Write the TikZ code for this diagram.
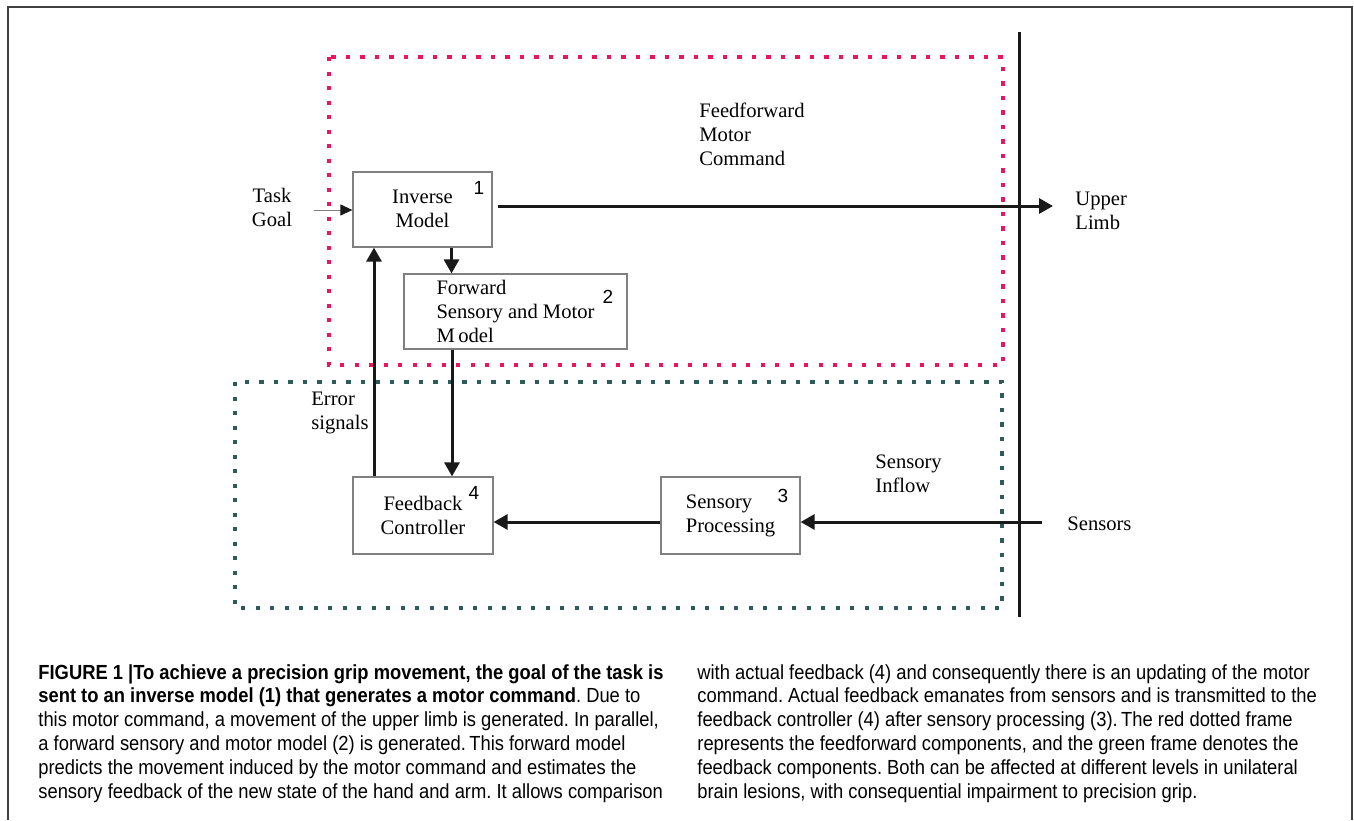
\documentclass[tikz,border=0pt]{standalone}
\usepackage{fontspec}
\setmainfont{Liberation Serif}
\newfontfamily\numfont{Liberation Sans}
\newfontfamily\capfont[FakeStretch=0.9]{Liberation Sans}
\usetikzlibrary{arrows.meta}

\definecolor{ffred}{HTML}{EC145F}
\definecolor{fbgreen}{HTML}{2F5C58}

\begin{document}
\frenchspacing
\begin{tikzpicture}[x=0.5pt,y=-0.5pt,
  >={Triangle[length=7pt,width=7.5pt]},
  every node/.style={font=\fontsize{10.3}{12}\selectfont,inner sep=0pt},
  block/.style={draw=black!50,line width=0.6pt,minimum height=37.5pt},
  num/.style={font=\numfont\fontsize{9.5}{10}\selectfont},
  flow/.style={line width=1.5pt,black!90},
  dotframe/.style={line width=2.1pt,dash pattern=on 2.1pt off 5.15pt},
  captext/.style={font=\capfont\fontsize{10.2}{11.9}\selectfont,align=left,anchor=north west}]
\useasboundingbox (0,0) rectangle (1354,820);

% outer frame of the figure
\draw[black!75,line width=0.75pt] (8,820) -- (8,7) -- (1352,7) -- (1352,820);

% feedforward and feedback frames
\draw[dotframe,ffred] (329,57) rectangle (1003,365);
\draw[dotframe,fbgreen] (235,382) rectangle (1002,608);

% the body boundary
\draw[line width=1.5pt,black!90] (1019,32) -- (1019,617);

\node[block,minimum width=69.5pt,align=center,text depth=1pt] (inv) at (422.5,209.5) {Inverse\\Model};
\node[block,minimum width=111.5pt,align=left] (fwd) at (515.5,311.5) {Forward\\Sensory and Motor\\M\,odel};
\node[block,minimum width=70pt,minimum height=38.5pt,align=center] (fb) at (423,515.5) {Feedback\\Controller};
\node[block,minimum width=69.5pt,minimum height=38.5pt,align=left] (sp) at (730.5,515.5) {Sensory\\Processing};

\node[num] (n1) at (479,188) {1};
\node[num] (n2) at (608,297) {2};
\node[num] (n3) at (783,496) {3};
\node[num] (n4) at (474,493) {4};

\node[align=center] (task) at (272,207) {Task\\Goal};
\node[align=left,anchor=west] (ffcmd) at (699,134) {Feedforward\\Motor\\Command};
\node[align=left,anchor=west] (upper) at (1075,210.5) {Upper\\Limb};
\node[align=left,anchor=west] (err) at (311,413) {Error\\signals};
\node[align=left,anchor=west] (inflow) at (875,474) {Sensory\\Inflow};
\node[anchor=west] (sens) at (1067,524) {Sensors};

\coordinate (goal) at (314,210);
\coordinate (ulimb) at (1053,206);
\coordinate (sensin) at (1042,522);

\draw[black!50,line width=0.5pt,-{Triangle[length=6pt,width=5.5pt,black!90]}] (goal) -- (goal -| inv.west);
\draw[flow,->] ([xshift=2.5pt]inv.east |- ulimb) -- (ulimb);
\draw[flow,->] ([xshift=14.5pt]inv.south) -- ([xshift=14.5pt]inv.south |- fwd.north);
\draw[flow,->] ([xshift=-24.5pt]fb.north) -- ([xshift=-24.5pt]fb.north |- inv.south);
\draw[flow,->] ([xshift=14.5pt]fb.north |- fwd.south) -- ([xshift=14.5pt]fb.north);
\draw[flow,->] (sensin) -- (sensin -| sp.east);
\draw[flow,->] (sensin -| sp.west) -- (sensin -| fb.east);

% caption
\node[captext] (capl) at (38,664) {%
\textbf{FIGURE 1 |To achieve a precision grip movement, the goal of the task is}\\
\textbf{sent to an inverse model (1) that generates a motor command}. Due to\\
this motor command, a movement of the upper limb is generated. In parallel,\\
a forward sensory and motor model (2) is generated.\,This forward model\\
predicts the movement induced by the motor command and estimates the\\
sensory feedback of the new state of the hand and arm. It allows comparison};
\node[captext] (capr) at (697,664) {%
with actual feedback (4) and consequently there is an updating of the motor\\
command. Actual feedback emanates from sensors and is transmitted to the\\
feedback controller (4) after sensory processing (3).\,The red dotted frame\\
represents the feedforward components, and the green frame denotes the\\
feedback components. Both can be affected at different levels in unilateral\\
brain lesions, with consequential impairment to precision grip.};
\end{tikzpicture}
\end{document}
